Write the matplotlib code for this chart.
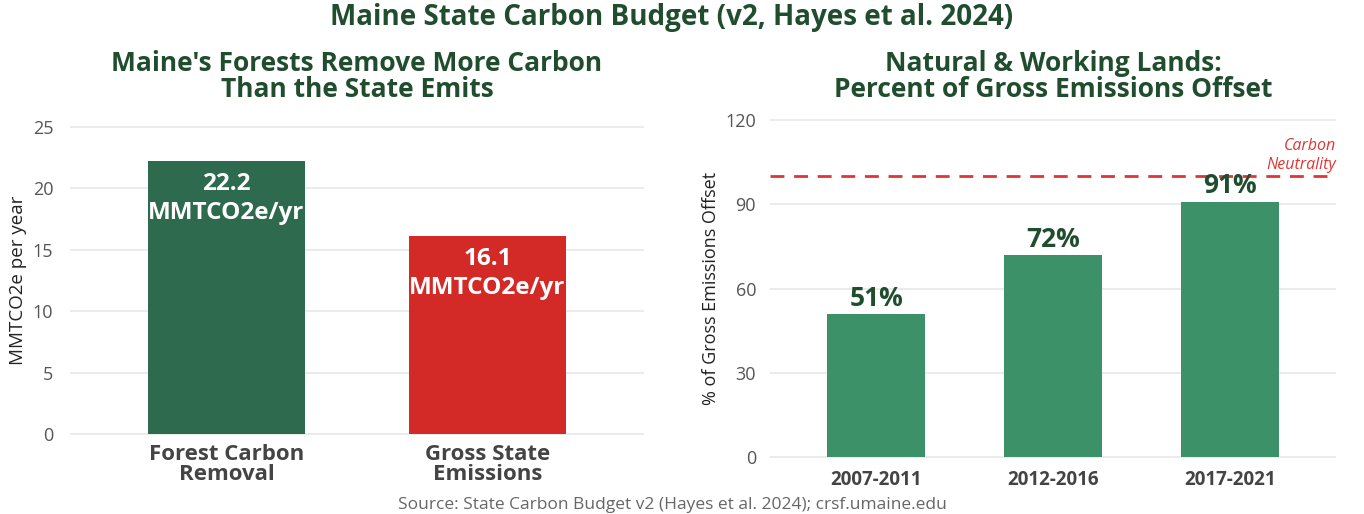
import matplotlib
matplotlib.use("Agg")
import matplotlib.pyplot as plt
import numpy as np

plt.rcParams['font.family'] = ['Open Sans', 'DejaVu Sans']

# carbon budget data
budget_labels = ["Forest Carbon\nRemoval", "Gross State\nEmissions"]
budget_values = [22.2, 16.1]
budget_colors = ["#2e6a4e", "#d42a27"]

offset_periods = ["2007-2011", "2012-2016", "2017-2021"]
offset_pct = [51, 72, 91]
neutrality_level = 100

title_green = "#1f4d2e"
grid_col = "#e8e8e8"
tick_col = "#555555"

fig = plt.figure(figsize=(13.64, 5.14), dpi=100)


def style_axes(ax, ytick_size, xtick_size):
    for s in ax.spines.values():
        s.set_visible(False)
    ax.tick_params(axis='both', length=0)
    ax.grid(axis='y', color=grid_col, linewidth=1.2)
    ax.set_axisbelow(True)
    for lbl in ax.get_yticklabels():
        lbl.set_color(tick_col)
        lbl.set_fontsize(ytick_size)
    for lbl in ax.get_xticklabels():
        lbl.set_color("#444444")
        lbl.set_fontsize(xtick_size)
        lbl.set_fontweight('bold')


# left panel: removal vs emissions
ax1 = fig.add_axes([0.0513, 0.1412, 0.4208, 0.626])
x1 = np.arange(len(budget_values))
bars = ax1.bar(x1, budget_values, width=0.6, color=budget_colors)
ax1.set_xlim(-0.6, 1.6)
ax1.set_ylim(-0.6, 25.6)
ax1.set_yticks([0, 5, 10, 15, 20, 25])
ax1.set_xticks(x1)
ax1.set_xticklabels(budget_labels, linespacing=0.95)
ax1.tick_params(axis='x', pad=2)
ax1.tick_params(axis='y', pad=12)
ax1.set_ylabel("MMTCO2e per year", fontsize=13.5, color="#222222", labelpad=4)
style_axes(ax1, 13, 16)
for bar, v in zip(bars, budget_values):
    t = ax1.text(bar.get_x() + bar.get_width() / 2, v - 0.9,
                 f"{v:.1f}\nMMTCO2e/yr", ha='center', va='top',
                 color='white', fontsize=17.5, fontweight='bold', linespacing=1.25)
    t.set_clip_path(bar)

# right panel: percent of emissions offset
ax2 = fig.add_axes([0.5645, 0.0945, 0.415, 0.688])
x2 = np.arange(len(offset_pct))
ax2.bar(x2, offset_pct, width=0.55, color="#3d9168")
ax2.set_xlim(-0.6, 2.6)
ax2.set_ylim(-3, 123)
ax2.set_yticks([0, 30, 60, 90, 120])
ax2.set_xticks(x2)
ax2.set_xticklabels(offset_periods)
ax2.tick_params(axis='x', pad=3)
ax2.tick_params(axis='y', pad=10)
ax2.set_ylabel("% of Gross Emissions Offset", fontsize=13, color="#222222", labelpad=4)
style_axes(ax2, 13, 13.5)
ax2.axhline(neutrality_level, color="#e03535", linestyle=(0, (5, 3.5)), linewidth=2)
ax2.text(2.6, neutrality_level + 1.2, "Carbon\nNeutrality", ha='right', va='bottom',
         color="#e03535", fontsize=11.5, fontstyle='italic', linespacing=1.25)
for xi, v in zip(x2, offset_pct):
    ax2.text(xi, v + 0.8, f"{v}%", ha='center', va='bottom',
             color=title_green, fontsize=19, fontweight='bold')

# titles and source line
fig.text(0.4927, 0.965, "Maine State Carbon Budget (v2, Hayes et al. 2024)",
         ha='center', va='center', fontsize=20, fontweight='bold', color=title_green)
fig.text(0.2617, 0.852, "Maine's Forests Remove More Carbon\nThan the State Emits",
         ha='center', va='center', fontsize=19, fontweight='bold', color=title_green,
         linespacing=0.95)
fig.text(0.772, 0.852, "Natural & Working Lands:\nPercent of Gross Emissions Offset",
         ha='center', va='center', fontsize=19, fontweight='bold', color=title_green,
         linespacing=0.95)
fig.text(0.4927, 0.0175, "Source: State Carbon Budget v2 (Hayes et al. 2024); crsf.umaine.edu",
         ha='center', va='center', fontsize=12.5, color="#666666")

fig.savefig("out.png", dpi=100, facecolor='white')
